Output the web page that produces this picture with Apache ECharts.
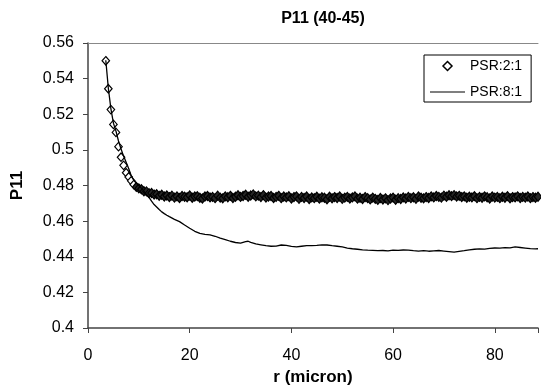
<!DOCTYPE html>
<html>
<head>
<meta charset="utf-8">
<script src="https://cdn.jsdelivr.net/npm/echarts@6/dist/echarts.min.js"></script>
<style>
  html, body { margin: 0; padding: 0; background: #fff; }
  #chart { width: 541px; height: 391px; }
</style>
</head>
<body>
<div id="chart"></div>
<script>
// P11 (40-45): PSR 2:1 (diamond markers) and PSR 8:1 (solid line)
const psr21 = [
  [3.5, 0.5500], [4.0, 0.5343], [4.5, 0.5226], [5.0, 0.5143], [5.5, 0.5098],
  [6.0, 0.5018], [6.5, 0.4959], [7.0, 0.4913], [7.5, 0.4872], [8.0, 0.4848],
  [8.5, 0.4826], [9.0, 0.4805], [9.5, 0.4792], [10.0, 0.4784], [10.5, 0.4779],
  [11.0, 0.4768], [11.5, 0.4767], [12.0, 0.4757], [12.5, 0.4758], [13.0, 0.4749],
  [13.5, 0.4751], [14.0, 0.4742], [14.5, 0.4748], [15.0, 0.4738], [15.5, 0.4744],
  [16.0, 0.4735],
  [16.5, 0.4743], [17.0, 0.4732], [17.5, 0.4739], [18.0, 0.4730], [18.5, 0.4741],
  [19.0, 0.4737], [19.5, 0.4734], [20.0, 0.4744], [20.5, 0.4731], [21.0, 0.4738],
  [21.5, 0.4740], [22.0, 0.4731], [22.5, 0.4727], [23.0, 0.4738], [23.5, 0.4741],
  [24.0, 0.4733], [24.5, 0.4736], [25.0, 0.4729], [25.5, 0.4743], [26.0, 0.4732],
  [26.5, 0.4728], [27.0, 0.4739], [27.5, 0.4734], [28.0, 0.4742], [28.5, 0.4730],
  [29.0, 0.4737], [29.5, 0.4745], [30.0, 0.4736], [30.5, 0.4741], [31.0, 0.4748],
  [31.5, 0.4737], [32.0, 0.4744], [32.5, 0.4750], [33.0, 0.4739], [33.5, 0.4743],
  [34.0, 0.4735], [34.5, 0.4746], [35.0, 0.4732], [35.5, 0.4738], [36.0, 0.4741],
  [36.5, 0.4730], [37.0, 0.4736], [37.5, 0.4742], [38.0, 0.4729], [38.5, 0.4738],
  [39.0, 0.4733], [39.5, 0.4740], [40.0, 0.4727], [40.5, 0.4735], [41.0, 0.4739],
  [41.5, 0.4725], [42.0, 0.4736], [42.5, 0.4730], [43.0, 0.4738], [43.5, 0.4724],
  [44.0, 0.4733], [44.5, 0.4729], [45.0, 0.4737], [45.5, 0.4726], [46.0, 0.4734],
  [46.5, 0.4731], [47.0, 0.4723], [47.5, 0.4737], [48.0, 0.4728], [48.5, 0.4735],
  [49.0, 0.4730], [49.5, 0.4738], [50.0, 0.4725], [50.5, 0.4732], [51.0, 0.4736],
  [51.5, 0.4727], [52.0, 0.4733], [52.5, 0.4739], [53.0, 0.4726], [53.5, 0.4731],
  [54.0, 0.4724], [54.5, 0.4735], [55.0, 0.4729], [55.5, 0.4722], [56.0, 0.4732],
  [56.5, 0.4725], [57.0, 0.4719], [57.5, 0.4730], [58.0, 0.4721], [58.5, 0.4728],
  [59.0, 0.4718], [59.5, 0.4727], [60.0, 0.4732], [60.5, 0.4720], [61.0, 0.4729],
  [61.5, 0.4724], [62.0, 0.4733], [62.5, 0.4727], [63.0, 0.4736], [63.5, 0.4729],
  [64.0, 0.4734], [64.5, 0.4725], [65.0, 0.4738], [65.5, 0.4731], [66.0, 0.4728],
  [66.5, 0.4735], [67.0, 0.4730], [67.5, 0.4739], [68.0, 0.4733], [68.5, 0.4741],
  [69.0, 0.4736], [69.5, 0.4732], [70.0, 0.4743], [70.5, 0.4737], [71.0, 0.4745],
  [71.5, 0.4740], [72.0, 0.4746], [72.5, 0.4738], [73.0, 0.4742], [73.5, 0.4735],
  [74.0, 0.4739], [74.5, 0.4731], [75.0, 0.4737], [75.5, 0.4733], [76.0, 0.4740],
  [76.5, 0.4729], [77.0, 0.4736], [77.5, 0.4731], [78.0, 0.4739], [78.5, 0.4734],
  [79.0, 0.4727], [79.5, 0.4738], [80.0, 0.4732], [80.5, 0.4736], [81.0, 0.4729],
  [81.5, 0.4737], [82.0, 0.4731], [82.5, 0.4740], [83.0, 0.4728], [83.5, 0.4735],
  [84.0, 0.4733], [84.5, 0.4739], [85.0, 0.4730], [85.5, 0.4736], [86.0, 0.4732],
  [86.5, 0.4738], [87.0, 0.4729], [87.5, 0.4735], [88.0, 0.4731], [88.5, 0.4737]
];

const psr81 = [
  [3.5, 0.5503], [4.0, 0.5346], [4.5, 0.5232], [5.0, 0.5150], [5.5, 0.5105],
  [6.0, 0.5050], [6.5, 0.5005], [7.0, 0.4965], [7.5, 0.4930], [8.0, 0.4895],
  [8.5, 0.4855], [9.0, 0.4830], [9.5, 0.4815], [10.0, 0.4800], [10.5, 0.4785],
  [11.0, 0.4768], [11.5, 0.4748], [12.0, 0.4733], [12.5, 0.4712], [13.0, 0.4693],
  [13.5, 0.4679], [14.0, 0.4665], [14.5, 0.4652], [15.0, 0.4642], [15.5, 0.4633],
  [16.0, 0.4625], [17.0, 0.4610], [18.0, 0.4597], [19.0, 0.4578], [20.0, 0.4560],
  [21.0, 0.4543], [22.0, 0.4531], [23.0, 0.4526], [24.0, 0.4523], [25.0, 0.4515],
  [26.0, 0.4504], [27.0, 0.4496], [28.0, 0.4487], [29.0, 0.4480], [30.0, 0.4477],
  [31.0, 0.4485], [31.5, 0.4487], [32.0, 0.4481], [33.0, 0.4472], [34.0, 0.4467],
  [35.0, 0.4462], [36.0, 0.4459], [37.0, 0.4460], [38.0, 0.4466], [39.0, 0.4464],
  [40.0, 0.4458], [41.0, 0.4455], [42.0, 0.4459], [43.0, 0.4463], [44.0, 0.4462],
  [45.0, 0.4464], [46.0, 0.4467], [47.0, 0.4466], [48.0, 0.4462], [49.0, 0.4459],
  [50.0, 0.4455], [51.0, 0.4449], [52.0, 0.4445], [53.0, 0.4442], [54.0, 0.4439],
  [55.0, 0.4437], [56.0, 0.4436], [57.0, 0.4434], [58.0, 0.4435], [59.0, 0.4433],
  [60.0, 0.4437], [61.0, 0.4436], [62.0, 0.4438], [63.0, 0.4437], [64.0, 0.4434],
  [65.0, 0.4432], [66.0, 0.4434], [67.0, 0.4431], [68.0, 0.4433], [69.0, 0.4435],
  [70.0, 0.4432], [71.0, 0.4429], [72.0, 0.4426], [73.0, 0.4430], [74.0, 0.4434],
  [75.0, 0.4439], [76.0, 0.4442], [77.0, 0.4444], [78.0, 0.4443], [79.0, 0.4447],
  [80.0, 0.4449], [81.0, 0.4448], [82.0, 0.4451], [83.0, 0.4450], [84.0, 0.4455],
  [85.0, 0.4452], [86.0, 0.4449], [87.0, 0.4446], [88.0, 0.4444], [88.5, 0.4445]
];

const xTicks = { min: 0, max: 88.5, interval: 20 };
const yTicks = { min: 0.4, max: 0.56, interval: 0.02 };

// the first markers are drawn open, the packed ones further out merge into a dark band
const openCount = 12;

const font = "'Liberation Sans', Arial, sans-serif";

const chart = echarts.init(document.getElementById("chart"));

const diamondStyle = { color: "#fff", borderColor: "#000", borderWidth: 1.2, opacity: 1 };

chart.setOption({
  animation: false,
  backgroundColor: "#fff",
  textStyle: { fontFamily: font, color: "#000" },
  title: {
    text: "P11 (40-45)",
    left: 318,
    top: 6,
    textAlign: "center",
    textStyle: { fontFamily: font, fontSize: 16, fontWeight: "bold", color: "#000" },
  },
  legend: {
    orient: "vertical",
    left: 424,
    top: 55,
    padding: [4, 9, 3, 6],
    itemGap: 12,
    itemWidth: 35,
    itemHeight: 9,
    symbolKeepAspect: true,
    borderColor: "#000",
    borderWidth: 1,
    textStyle: { fontFamily: font, fontSize: 14, color: "#000" },
    data: [
      {
        name: "PSR:2:1",
        icon: "path://M5,0 L10,5 L5,10 L0,5 Z",
        itemStyle: { color: "#fff", borderColor: "#000", borderWidth: 1.5 },
      },
      {
        name: "PSR:8:1",
        icon: "path://M0,0 L35,0 L35,1.2 L0,1.2 Z",
        itemStyle: { color: "#000", borderWidth: 0 },
      },
    ],
  },
  grid: {
    left: 88,
    top: 43,
    right: 0,
    bottom: 60,
  },
  xAxis: [
    {
      type: "value",
      min: xTicks.min,
      max: xTicks.max,
      interval: xTicks.interval,
      name: "r (micron)",
      nameLocation: "middle",
      nameGap: 41,
      nameTextStyle: { fontFamily: font, fontSize: 17, fontWeight: "bold", color: "#000" },
      axisLine: { lineStyle: { color: "#444", width: 1.5 } },
      axisTick: { show: true, length: 5, lineStyle: { color: "#444" } },
      axisLabel: {
        margin: 20,
        fontFamily: font,
        fontSize: 16,
        color: "#000",
        formatter: (v) => (v % 20 === 0 ? String(v) : ""),
      },
      splitLine: { show: false },
    },
    {
      // top border of the plot area
      type: "value",
      position: "top",
      min: xTicks.min,
      max: xTicks.max,
      axisLine: { show: true, onZero: false, lineStyle: { color: "#888", width: 1 } },
      axisTick: { show: false },
      axisLabel: { show: false },
      splitLine: { show: false },
    },
  ],
  yAxis: {
    type: "value",
    min: yTicks.min,
    max: yTicks.max,
    interval: yTicks.interval,
    name: "P11",
    nameLocation: "middle",
    nameGap: 62,
    nameTextStyle: { fontFamily: font, fontSize: 17, fontWeight: "bold", color: "#000" },
    axisLine: { show: true, lineStyle: { color: "#444", width: 1.5 } },
    axisTick: { show: true, length: 5, lineStyle: { color: "#444" } },
    axisLabel: {
      margin: 14,
      fontFamily: font,
      fontSize: 16,
      color: "#000",
      formatter: (v) => String(Math.round(v * 100) / 100),
    },
    splitLine: { show: false },
  },
  series: [
    {
      name: "PSR:2:1",
      type: "scatter",
      data: psr21.slice(0, openCount),
      symbol: "diamond",
      symbolSize: [7.5, 8.5],
      itemStyle: diamondStyle,
      emphasis: { disabled: true },
      z: 2,
    },
    {
      name: "PSR:2:1",
      type: "scatter",
      data: psr21.slice(openCount),
      symbol: "diamond",
      symbolSize: [7.5, 9],
      itemStyle: { color: "#262626", borderColor: "#000", borderWidth: 1.2, opacity: 1 },
      emphasis: { disabled: true },
      z: 2,
    },
    {
      name: "PSR:8:1",
      type: "line",
      data: psr81,
      symbol: "none",
      lineStyle: { color: "#000", width: 1.3 },
      itemStyle: { color: "#000" },
      emphasis: { disabled: true },
      z: 3,
    },
  ],
});
</script>
</body>
</html>
